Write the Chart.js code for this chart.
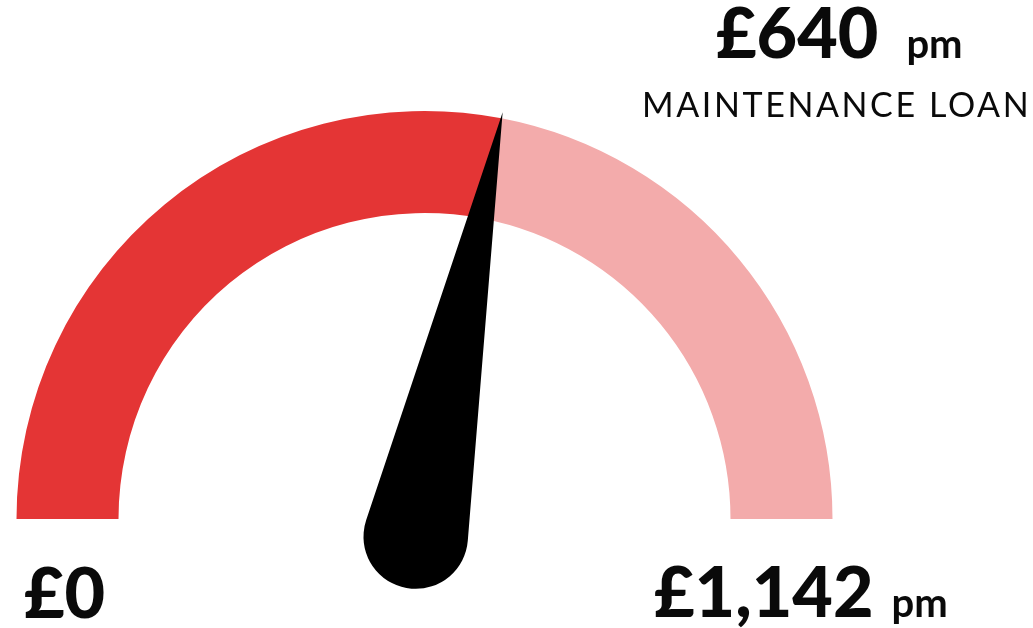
<!DOCTYPE html>
<html>
<head>
<meta charset="utf-8">
<script src="https://cdn.jsdelivr.net/npm/chart.js@4/dist/chart.umd.min.js"></script>
<style>
  html, body { margin: 0; padding: 0; background: #fff; }
  #wrap { width: 1033px; height: 628px; position: relative; }
</style>
</head>
<body>
<div id="wrap"><canvas id="gaugeChart" width="1033" height="628"></canvas></div>
<script>
const labels = ["Maintenance loan", "Remaining"];
const values = [640, 502];
const maxValue = 1142;
const valueLabel = "£640";
const valueUnit = "pm";
const valueCaption = "MAINTENANCE LOAN";
const tickLabels = ["£0", "£1,142"];
const tickUnit = ["", "pm"];

// needle + text drawn on top of the half doughnut
const gaugeExtras = {
  id: "gaugeExtras",
  afterDatasetsDraw(chart) {
    const ctx = chart.ctx;
    const arc = chart.getDatasetMeta(0).data[0];
    const cx = arc.x, cy = arc.y, R = arc.outerRadius;

    const theta = Math.PI * (1 - values[0] / maxValue);
    const dx = Math.cos(theta), dy = -Math.sin(theta);
    const tip = { x: cx + dx * R * 1.015, y: cy + dy * R * 1.015 };
    const tail = { x: cx - dx * 20 - 5, y: cy - dy * 20 - 2 };
    const r = R * 0.128;
    const d = Math.hypot(tip.x - tail.x, tip.y - tail.y);
    const phi = Math.atan2(tip.y - tail.y, tip.x - tail.x);
    const a = Math.acos(r / d);

    ctx.save();
    ctx.fillStyle = "#000";
    ctx.beginPath();
    ctx.moveTo(tip.x, tip.y);
    ctx.arc(tail.x, tail.y, r, phi + a, phi - a + Math.PI * 2, false);
    ctx.closePath();
    ctx.fill();

    ctx.textBaseline = "alphabetic";
    ctx.textAlign = "left";
    ctx.fillStyle = "#0a0a0a";

    // value at top right
    ctx.font = "900 70px Lato";
    ctx.fillText(valueLabel, 716, 58);
    let w = ctx.measureText(valueLabel).width;
    ctx.font = "bold 40px Lato";
    ctx.fillText(valueUnit, 716 + w + 28, 58);

    ctx.font = "34px Lato";
    ctx.letterSpacing = "2.6px";
    ctx.fillText(valueCaption, 642, 117);
    ctx.letterSpacing = "0px";

    // ends of the scale
    ctx.font = "900 70px Lato";
    ctx.fillText(tickLabels[0], 24, 618);
    ctx.fillText(tickLabels[1], 654, 617);
    w = ctx.measureText(tickLabels[1]).width;
    ctx.font = "bold 40px Lato";
    ctx.fillText(tickUnit[1], 654 + w + 18, 617);
    ctx.restore();
  }
};

new Chart(document.getElementById("gaugeChart"), {
  type: "doughnut",
  data: {
    labels: labels,
    datasets: [{
      data: values,
      backgroundColor: ["#E43535", "#F3ABAB"],
      borderWidth: 0,
      hoverOffset: 0
    }]
  },
  options: {
    responsive: false,
    animation: false,
    rotation: -90,
    circumference: 180,
    cutout: "75%",
    layout: { padding: { left: 16, right: 200, top: 111, bottom: 109 } },
    plugins: {
      legend: { display: false },
      tooltip: { enabled: false }
    }
  },
  plugins: [gaugeExtras]
});
</script>
</body>
</html>
